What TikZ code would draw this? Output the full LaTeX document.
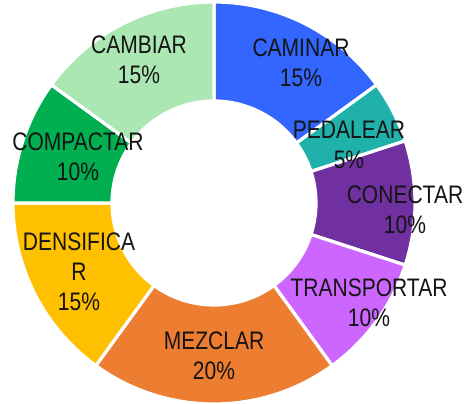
\documentclass[tikz,border=0pt]{standalone}
\usepackage{fontspec}
\usepackage{tikz}
\usepackage{xcolor}
\setmainfont[FakeStretch=0.83]{Liberation Sans}
\definecolor{caminar}{RGB}{51,102,255}
\definecolor{pedalear}{RGB}{32,178,170}
\definecolor{conectar}{RGB}{112,48,160}
\definecolor{transportar}{RGB}{204,102,255}
\definecolor{mezclar}{RGB}{237,125,49}
\definecolor{densificar}{RGB}{255,192,0}
\definecolor{compactar}{RGB}{0,176,80}
\definecolor{cambiar}{RGB}{171,231,178}
\definecolor{labeltext}{RGB}{20,20,20}

\begin{document}
\begin{tikzpicture}[x=0.75pt, y=0.75pt,
        wedge/.style={draw=white, line width=2.4pt, line join=miter},
        pielabel/.style={align=center, text=labeltext, inner sep=0pt,
            font=\fontsize{19}{22.5}\selectfont}]
        \useasboundingbox (-214, -201) rectangle (255, 203);

        % ring segments, clockwise from the top
        \filldraw[wedge, fill=caminar] (90:102) -- (90:201) arc[start angle=90, end angle=36, radius=201] -- (36:102) arc[start angle=36, end angle=90, radius=102] -- cycle;
        \filldraw[wedge, fill=pedalear] (36:102) -- (36:201) arc[start angle=36, end angle=18, radius=201] -- (18:102) arc[start angle=18, end angle=36, radius=102] -- cycle;
        \filldraw[wedge, fill=conectar] (18:102) -- (18:201) arc[start angle=18, end angle=-18, radius=201] -- (-18:102) arc[start angle=-18, end angle=18, radius=102] -- cycle;
        \filldraw[wedge, fill=transportar] (-18:102) -- (-18:201) arc[start angle=-18, end angle=-54, radius=201] -- (-54:102) arc[start angle=-54, end angle=-18, radius=102] -- cycle;
        \filldraw[wedge, fill=mezclar] (-54:102) -- (-54:201) arc[start angle=-54, end angle=-126, radius=201] -- (-126:102) arc[start angle=-126, end angle=-54, radius=102] -- cycle;
        \filldraw[wedge, fill=densificar] (-126:102) -- (-126:201) arc[start angle=-126, end angle=-180, radius=201] -- (-180:102) arc[start angle=-180, end angle=-126, radius=102] -- cycle;
        \filldraw[wedge, fill=compactar] (180:102) -- (180:201) arc[start angle=180, end angle=144, radius=201] -- (144:102) arc[start angle=144, end angle=180, radius=102] -- cycle;
        \filldraw[wedge, fill=cambiar] (144:102) -- (144:201) arc[start angle=144, end angle=90, radius=201] -- (90:102) arc[start angle=90, end angle=144, radius=102] -- cycle;

        % data labels
        \node[pielabel] (caminar) at (87, 140) {CAMINAR\\15\%};
        \node[pielabel] (pedalear) at (135, 58) {PEDALEAR\\5\%};
        \node[pielabel] (conectar) at (191, -7) {CONECTAR\\10\%};
        \node[pielabel] (transportar) at (155, -100) {TRANSPORTAR\\10\%};
        \node[pielabel] (mezclar) at (0, -153) {MEZCLAR\\20\%};
        \node[pielabel] (densificar) at (-135, -69) {DENSIFICA\\R\\15\%};
        \node[pielabel] (compactar) at (-136, 46) {COMPACTAR\\10\%};
        \node[pielabel] (cambiar) at (-75, 143) {CAMBIAR\\15\%};
    \end{tikzpicture}
\end{document}
